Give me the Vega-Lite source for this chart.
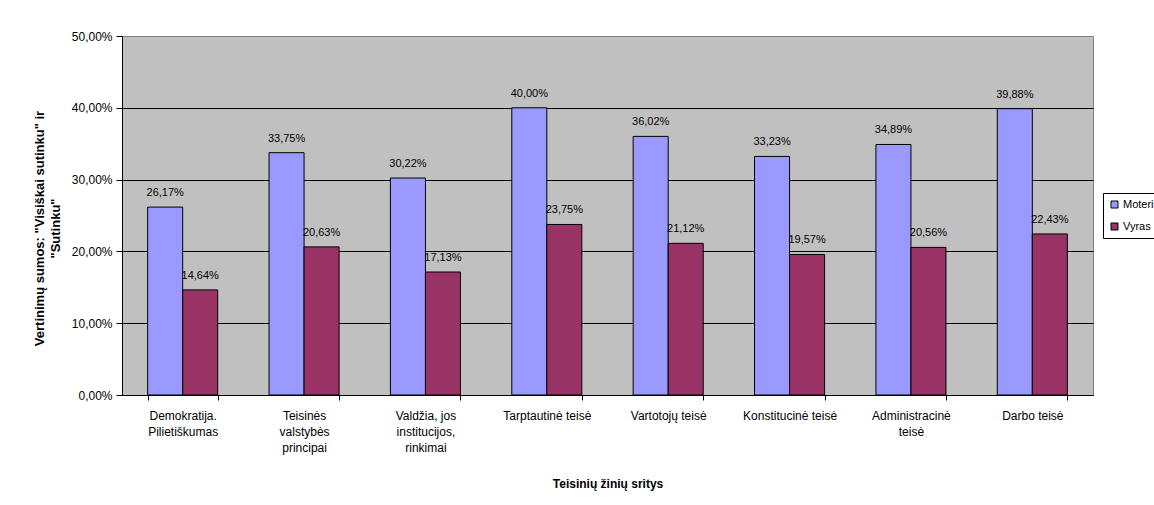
{
  "$schema": "https://vega.github.io/schema/vega-lite/v6.json",
  "width": 971,
  "height": 359,
  "autosize": {"type": "none"},
  "padding": {"left": 122, "top": 36, "right": 61, "bottom": 110},
  "background": "white",
  "config": {
    "font": "Liberation Sans",
    "locale": {"number": {"decimal": ",", "thousands": ".", "grouping": [3], "currency": ["", " €"]}},
    "view": {"fill": "#C0C0C0", "stroke": "#808080", "strokeWidth": 1},
    "axis": {"domainColor": "black", "tickColor": "black", "labelColor": "black", "titleColor": "black", "labelFont": "Liberation Sans", "titleFont": "Liberation Sans"}
  },
  "data": {"values": [
    {"sritis": "Demokratija. Pilietiškumas", "lytis": "Moteris", "reiksme": 0.2617},
    {"sritis": "Demokratija. Pilietiškumas", "lytis": "Vyras", "reiksme": 0.1464},
    {"sritis": "Teisinės valstybės principai", "lytis": "Moteris", "reiksme": 0.3375},
    {"sritis": "Teisinės valstybės principai", "lytis": "Vyras", "reiksme": 0.2063},
    {"sritis": "Valdžia, jos institucijos, rinkimai", "lytis": "Moteris", "reiksme": 0.3022},
    {"sritis": "Valdžia, jos institucijos, rinkimai", "lytis": "Vyras", "reiksme": 0.1713},
    {"sritis": "Tarptautinė teisė", "lytis": "Moteris", "reiksme": 0.4000},
    {"sritis": "Tarptautinė teisė", "lytis": "Vyras", "reiksme": 0.2375},
    {"sritis": "Vartotojų teisė", "lytis": "Moteris", "reiksme": 0.3602},
    {"sritis": "Vartotojų teisė", "lytis": "Vyras", "reiksme": 0.2112},
    {"sritis": "Konstitucinė teisė", "lytis": "Moteris", "reiksme": 0.3323},
    {"sritis": "Konstitucinė teisė", "lytis": "Vyras", "reiksme": 0.1957},
    {"sritis": "Administracinė teisė", "lytis": "Moteris", "reiksme": 0.3489},
    {"sritis": "Administracinė teisė", "lytis": "Vyras", "reiksme": 0.2056},
    {"sritis": "Darbo teisė", "lytis": "Moteris", "reiksme": 0.3988},
    {"sritis": "Darbo teisė", "lytis": "Vyras", "reiksme": 0.2243}
  ]},
  "encoding": {
    "x": {
      "field": "sritis", "type": "nominal", "sort": null,
      "scale": {"paddingInner": 0.423, "paddingOuter": 0.2115},
      "axis": {
        "title": "Teisinių žinių sritys",
        "titleFontSize": 12, "titleFontWeight": "bold",
        "titleY": 88, "titleBaseline": "middle",
        "labelAngle": 0, "labelFontSize": 12, "labelLineHeight": 16,
        "labelPadding": 10, "labelBaseline": "top",
        "tickBand": "extent", "tickSize": 5, "labelLimit": 0,
        "labelExpr": "datum.value == 'Demokratija. Pilietiškumas' ? ['Demokratija.', 'Pilietiškumas'] : datum.value == 'Teisinės valstybės principai' ? ['Teisinės', 'valstybės', 'principai'] : datum.value == 'Valdžia, jos institucijos, rinkimai' ? ['Valdžia, jos', 'institucijos,', 'rinkimai'] : datum.value == 'Administracinė teisė' ? ['Administracinė', 'teisė'] : datum.value"
      }
    },
    "xOffset": {"field": "lytis", "type": "nominal"},
    "y": {
      "field": "reiksme", "type": "quantitative",
      "scale": {"domain": [0, 0.5], "nice": false},
      "axis": {
        "title": ["Vertinimų sumos: \"Visiškai sutinku\" ir", "\"Sutinku\""],
        "titleFontSize": 13, "titleFontWeight": "bold", "titleLineHeight": 16,
        "titleX": -83, "titleY": 192, "titleAngle": -90, "titleAlign": "center", "titleBaseline": "middle",
        "format": ".2%", "values": [0, 0.1, 0.2, 0.3, 0.4, 0.5],
        "labelFontSize": 12, "labelPadding": 4, "tickSize": 6,
        "grid": true,
        "gridColor": {"condition": {"test": "datum.value >= 0.5", "value": "#808080"}, "value": "black"},
        "gridWidth": 1
      }
    }
  },
  "layer": [
    {
      "mark": {"type": "bar", "stroke": "black", "strokeWidth": 1},
      "encoding": {
        "color": {
          "field": "lytis", "type": "nominal",
          "scale": {"domain": ["Moteris", "Vyras"], "range": ["#9999FF", "#993366"]},
          "legend": {
            "title": null, "orient": "none", "legendX": 981, "legendY": 157,
            "symbolType": "square", "symbolSize": 49, "symbolStrokeColor": "black", "symbolStrokeWidth": 1,
            "labelFontSize": 11, "labelColor": "black", "labelFont": "Liberation Sans",
            "rowPadding": 10, "padding": 6, "strokeColor": "black", "fillColor": "white",
            "labelOffset": 3
          }
        }
      }
    },
    {
      "mark": {"type": "text", "baseline": "middle", "dy": -14, "fontSize": 11, "color": "black"},
      "encoding": {
        "text": {"field": "reiksme", "type": "quantitative", "format": ".2%"}
      }
    }
  ]
}
